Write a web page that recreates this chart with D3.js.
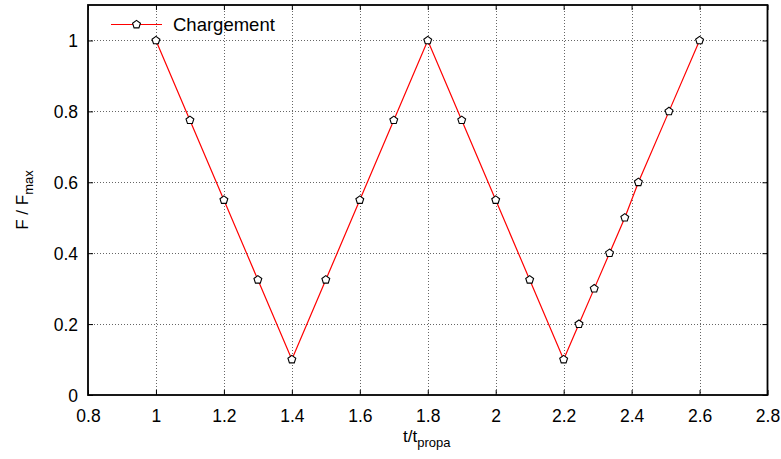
<!DOCTYPE html>
<html><head><meta charset="utf-8">
<script src="https://cdn.jsdelivr.net/npm/d3@7"></script>
<style>body{margin:0;background:#fff;} text{font-family:"Liberation Sans",Arial,sans-serif;}</style>
</head><body>
<svg id="c" width="781" height="459"></svg>
<script>
const tValues = [1.0, 1.1, 1.2, 1.3, 1.4, 1.5, 1.6, 1.7, 1.8, 1.9, 2.0, 2.1, 2.2, 2.245, 2.29, 2.335, 2.38, 2.42, 2.51, 2.6];
const fValues = [1.0, 0.775, 0.55, 0.325, 0.1, 0.325, 0.55, 0.775, 1.0, 0.775, 0.55, 0.325, 0.1, 0.2, 0.3, 0.4, 0.5, 0.6, 0.8, 1.0];
const xTicks = [0.8, 1, 1.2, 1.4, 1.6, 1.8, 2, 2.2, 2.4, 2.6, 2.8];
const yTicks = [0, 0.2, 0.4, 0.6, 0.8, 1];
const seriesName = "Chargement";

const svg = d3.select("#c");
const L = 88, R = 767.5, T = 5, B = 395;
const x = d3.scaleLinear().domain([0.8, 2.8]).range([L, R]);
const y = d3.scaleLinear().domain([0, 1.1]).range([B, T]);

// grid
const g = svg.append("g");
g.selectAll(".gx").data(xTicks.slice(1, -1)).enter().append("line")
  .attr("x1", d => Math.round(x(d)) + 0.5).attr("x2", d => Math.round(x(d)) + 0.5).attr("y1", T).attr("y2", B)
  .attr("stroke", "#666").attr("stroke-width", 1).attr("stroke-dasharray", "1,2");
g.selectAll(".gy").data(yTicks.slice(1)).enter().append("line")
  .attr("x1", L).attr("x2", R).attr("y1", d => Math.round(y(d)) + 0.5).attr("y2", d => Math.round(y(d)) + 0.5)
  .attr("stroke", "#666").attr("stroke-width", 1).attr("stroke-dasharray", "1,2");

// axes
const fmt = d => d3.format("")(+d.toFixed(1));
const xAx = svg.append("g").attr("transform", `translate(0,${B})`)
  .call(d3.axisBottom(x).tickValues(xTicks).tickSize(-5).tickPadding(15).tickFormat(fmt));
const xAxTop = svg.append("g").attr("transform", `translate(0,${T})`)
  .call(d3.axisTop(x).tickValues(xTicks).tickSize(-5).tickFormat(""));
const yAx = svg.append("g").attr("transform", `translate(${L},0)`)
  .call(d3.axisLeft(y).tickValues(yTicks).tickSize(-5).tickPadding(10).tickFormat(fmt));
const yAxR = svg.append("g").attr("transform", `translate(${R},0)`)
  .call(d3.axisRight(y).tickValues(yTicks).tickSize(-5).tickFormat(""));
[xAx, xAxTop, yAx, yAxR].forEach(a => {
  a.select(".domain").remove();
  a.selectAll(".tick line").attr("stroke", "#000").attr("stroke-width", 1);
  a.selectAll("text").attr("fill", "#000").attr("font-size", 17.5)
   .attr("font-family", "'Liberation Sans',Arial,sans-serif");
});
yAx.selectAll("text").attr("dy", "0.36em");

// frame
svg.append("rect").attr("x", L).attr("y", T).attr("width", R - L).attr("height", B - T)
  .attr("fill", "none").attr("stroke", "#000").attr("stroke-width", 1.8);

// line
const data = tValues.map((t, i) => ({t, f: fValues[i]}));
svg.append("path").datum(data)
  .attr("d", d3.line().x(d => x(d.t)).y(d => y(d.f)))
  .attr("fill", "none").attr("stroke", "#f00").attr("stroke-width", 1.2);

const pent = d3.symbol().type({draw(ctx, size) {
  const r = Math.sqrt(size);
  for (let i = 0; i < 5; i++) {
    const a = -Math.PI / 2 + i * 2 * Math.PI / 5;
    const px = r * Math.cos(a), py = r * Math.sin(a);
    if (i === 0) ctx.moveTo(px, py); else ctx.lineTo(px, py);
  }
  ctx.closePath();
}}).size(17);

svg.selectAll(".pt").data(data).enter().append("path")
  .attr("transform", d => `translate(${x(d.t)},${y(d.f)})`)
  .attr("d", pent).attr("fill", "#fff").attr("stroke", "#000").attr("stroke-width", 1.1);

// legend
svg.append("line").attr("x1", 111).attr("x2", 162).attr("y1", 24.5).attr("y2", 24.5)
  .attr("stroke", "#f00").attr("stroke-width", 1.2);
svg.append("path").attr("transform", "translate(136.5,24.5)").attr("d", pent)
  .attr("fill", "#fff").attr("stroke", "#000").attr("stroke-width", 1.1);
svg.append("text").attr("x", 173).attr("y", 31).attr("font-size", 18.5).text(seriesName);

// axis titles
const xt = svg.append("text").attr("x", 403).attr("y", 442).attr("font-size", 17);
xt.append("tspan").text("t/t");
xt.append("tspan").attr("font-size", 13).attr("dy", 5).text("propa");

const yt = svg.append("text").attr("transform", "translate(27.5,200) rotate(-90)")
  .attr("font-size", 17).attr("text-anchor", "middle");
yt.append("tspan").text("F / F");
yt.append("tspan").attr("font-size", 13).attr("dy", 5).text("max");
</script>
</body></html>
